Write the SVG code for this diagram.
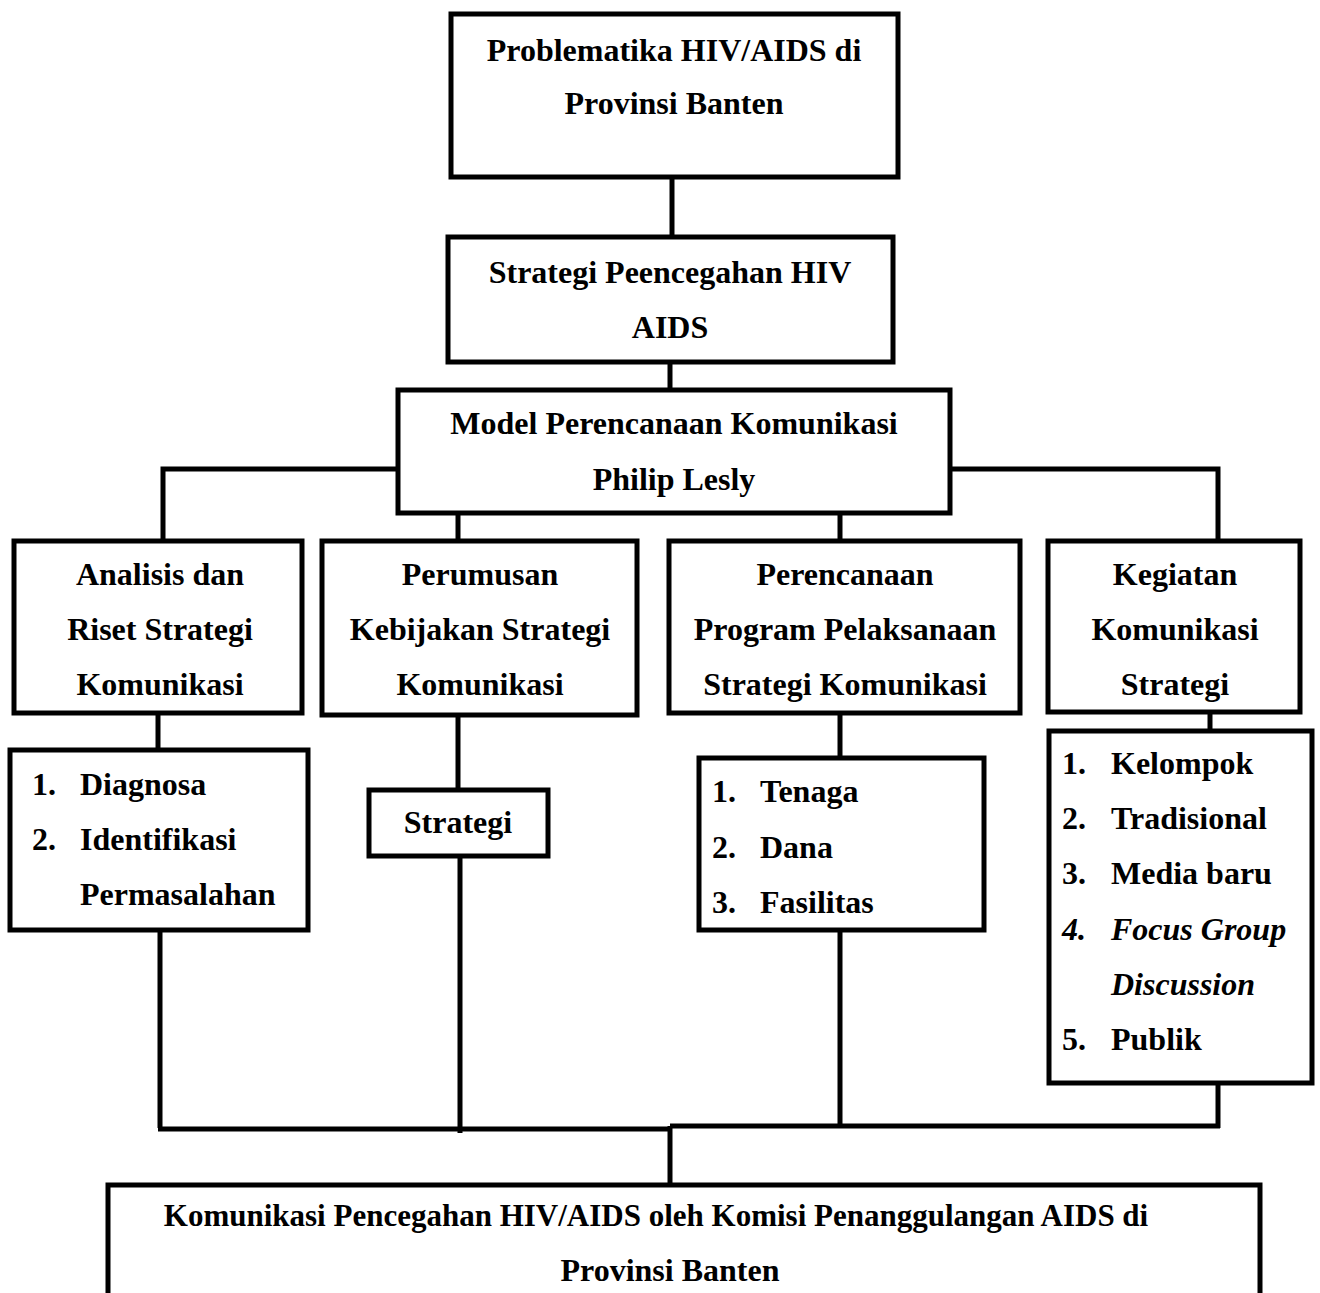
<svg xmlns="http://www.w3.org/2000/svg" width="1320" height="1293" viewBox="0 0 1320 1293">
  <style>
    .box { fill: #fff; stroke: #000; stroke-width: 5; }
    .wire { fill: none; stroke: #000; stroke-width: 5; stroke-linecap: butt; stroke-linejoin: miter; }
    text { font-family: "Liberation Serif", "Times New Roman", serif; font-weight: bold; font-size: 32px; fill: #000; }
    .c { text-anchor: middle; }
    .it { font-style: italic; }
    .wide { font-size: 31px; }
  </style>
  <rect width="1320" height="1293" fill="#fff"/>

  <!-- connectors -->
  <g id="connectors" class="wire">
    <path d="M672 177 V237"/>
    <path d="M670 362 V390"/>
    <path d="M398 469 H163 V541"/>
    <path d="M950 469 H1218 V541"/>
    <path d="M458 513 V541"/>
    <path d="M840 513 V541"/>
    <path d="M158 713 V750"/>
    <path d="M458 715 V790"/>
    <path d="M840 713 V758"/>
    <path d="M1210 712 V740"/>
    <path d="M160 930 V1128"/>
    <path d="M460 856 V1133"/>
    <path d="M840 930 V1128"/>
    <path d="M1218 1083 V1128"/>
    <path d="M158 1129 H672"/>
    <path d="M670 1126 H1220"/>
    <path d="M670 1126 V1185"/>
  </g>

  <g id="problematika">
    <rect class="box" x="451" y="14" width="447" height="163"/>
    <text class="c" x="674" y="61">Problematika HIV/AIDS di</text>
    <text class="c" x="674" y="114">Provinsi Banten</text>
  </g>

  <g id="strategi-pencegahan">
    <rect class="box" x="448" y="237" width="445" height="125"/>
    <text class="c" x="670" y="283">Strategi Peencegahan HIV</text>
    <text class="c" x="670" y="338">AIDS</text>
  </g>

  <g id="model-perencanaan">
    <rect class="box" x="398" y="390" width="552" height="123"/>
    <text class="c" x="674" y="434">Model Perencanaan Komunikasi</text>
    <text class="c" x="674" y="490">Philip Lesly</text>
  </g>

  <g id="analisis">
    <rect class="box" x="14" y="541" width="288" height="172"/>
    <text class="c" x="160" y="585">Analisis dan</text>
    <text class="c" x="160" y="640">Riset Strategi</text>
    <text class="c" x="160" y="695">Komunikasi</text>
  </g>

  <g id="perumusan">
    <rect class="box" x="322" y="541" width="315" height="174"/>
    <text class="c" x="480" y="585">Perumusan</text>
    <text class="c" x="480" y="640">Kebijakan Strategi</text>
    <text class="c" x="480" y="695">Komunikasi</text>
  </g>

  <g id="perencanaan-program">
    <rect class="box" x="669" y="541" width="351" height="172"/>
    <text class="c" x="845" y="585">Perencanaan</text>
    <text class="c" x="845" y="640">Program Pelaksanaan</text>
    <text class="c" x="845" y="695">Strategi Komunikasi</text>
  </g>

  <g id="kegiatan">
    <rect class="box" x="1048" y="541" width="252" height="171"/>
    <text class="c" x="1175" y="585">Kegiatan</text>
    <text class="c" x="1175" y="640">Komunikasi</text>
    <text class="c" x="1175" y="695">Strategi</text>
  </g>

  <g id="diagnosa-list">
    <rect class="box" x="10" y="750" width="298" height="180"/>
    <text x="32" y="795">1.</text><text x="80" y="795">Diagnosa</text>
    <text x="32" y="850">2.</text><text x="80" y="850">Identifikasi</text>
    <text x="80" y="905">Permasalahan</text>
  </g>

  <g id="strategi">
    <rect class="box" x="369" y="790" width="179" height="66"/>
    <text class="c" x="458" y="833">Strategi</text>
  </g>

  <g id="sumber-daya-list">
    <rect class="box" x="699" y="758" width="285" height="172"/>
    <text x="712" y="802">1.</text><text x="760" y="802">Tenaga</text>
    <text x="712" y="858">2.</text><text x="760" y="858">Dana</text>
    <text x="712" y="913">3.</text><text x="760" y="913">Fasilitas</text>
  </g>

  <g id="kegiatan-list">
    <rect class="box" x="1049" y="731" width="263" height="352"/>
    <text x="1062" y="774">1.</text><text x="1111" y="774">Kelompok</text>
    <text x="1062" y="829">2.</text><text x="1111" y="829">Tradisional</text>
    <text x="1062" y="884">3.</text><text x="1111" y="884">Media baru</text>
    <text class="it" x="1062" y="940">4.</text><text class="it" x="1111" y="940">Focus Group</text>
    <text class="it" x="1111" y="995">Discussion</text>
    <text x="1062" y="1050">5.</text><text x="1111" y="1050">Publik</text>
  </g>

  <g id="komunikasi-pencegahan">
    <rect class="box" x="108" y="1185" width="1152" height="130"/>
    <text class="c wide" x="656" y="1226">Komunikasi Pencegahan HIV/AIDS oleh Komisi Penanggulangan AIDS di</text>
    <text class="c" x="670" y="1281">Provinsi Banten</text>
  </g>
</svg>
